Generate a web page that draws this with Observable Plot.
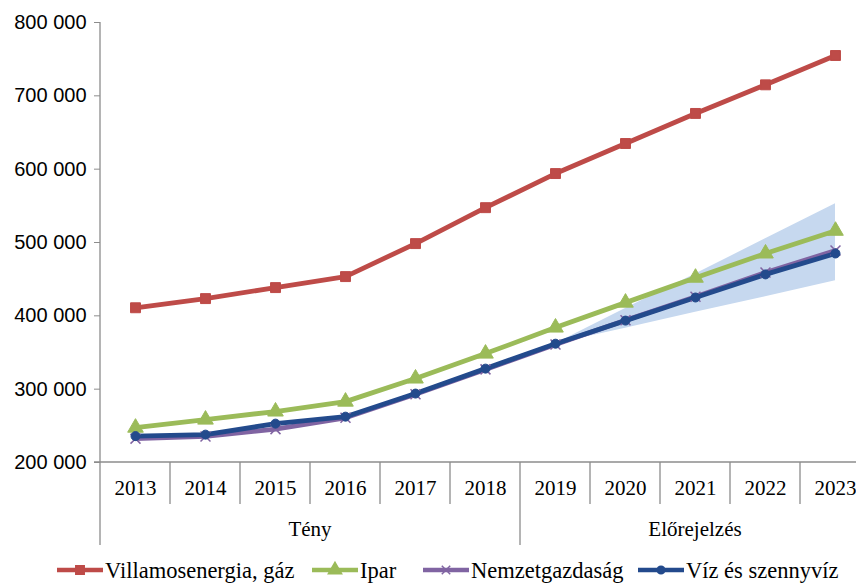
<!DOCTYPE html>
<html>
<head>
<meta charset="utf-8">
<script src="https://cdn.jsdelivr.net/npm/d3@7"></script>
<script src="https://cdn.jsdelivr.net/npm/@observablehq/plot@0.6"></script>
<style>
  html, body { margin: 0; padding: 0; background: #fff; overflow: hidden; width: 856px; height: 583px; }
  #chart svg { overflow: hidden; }
  #legend svg { display: block; }
</style>
</head>
<body>
<div id="chart"></div>
<div id="legend"></div>
<script>
const years = [2013, 2014, 2015, 2016, 2017, 2018, 2019, 2020, 2021, 2022, 2023];
const villamos = [411000, 423500, 438500, 453500, 498500, 547500, 594000, 635000, 676000, 715000, 755000];
const ipar = [247500, 258500, 269500, 283000, 314500, 348500, 384000, 418000, 452000, 485000, 516000];
const nemzet = [232500, 235500, 245500, 261000, 293000, 327000, 361000, 394000, 426000, 459000, 489000];
const viz = [236000, 238000, 253000, 262500, 294000, 328000, 362000, 393500, 425000, 456500, 485000];

const bandYears = [2019, 2020, 2021, 2022, 2023];
const bandLow = [362000, 383000, 405000, 426000, 448000];
const bandHigh = [362000, 410000, 457000, 505000, 553000];

const yTicks = [200000, 300000, 400000, 500000, 600000, 700000, 800000];
const groups = [
  {label: "Tény", from: 2013, to: 2018},
  {label: "Előrejelzés", from: 2019, to: 2023}
];

const seriesNames = ["Villamosenergia, gáz", "Ipar", "Nemzetgazdaság", "Víz és szennyvíz"];
const seriesValues = [villamos, ipar, nemzet, viz];

// styling (kept separate from the data)
const seriesColors = ["#BE4B48", "#9BBB59", "#8064A2", "#234A8C"];
const seriesSymbols = ["square", "triangle", "times", "circle"];
const seriesSizes = [5.6, 5.8, 4.6, 4.5];
const legendLeft = [57, 312, 423, 638];
const serif = "'Liberation Serif', 'Times New Roman', serif";

const rows = [];
seriesNames.forEach((name, i) => {
  years.forEach((yr, j) => rows.push({series: name, idx: i, year: yr, value: seriesValues[i][j]}));
});
const band = bandYears.map((yr, j) => ({year: yr, low: bandLow[j], high: bandHigh[j]}));

const fmt = v => d3.format(",")(v).replace(/,/g, "\u00a0");

function tableMark(index, scales, values, dimensions) {
  const x = scales.x, y = scales.y;
  const bw = x.bandwidth ? x.bandwidth() : (x(years[1]) - x(years[0]));
  const y0 = y(200000);
  const left = x(years[0]);
  const right = x(years[years.length - 1]) + bw;
  const g = d3.create("svg:g").attr("stroke", "#8c8c8c").attr("stroke-width", 1.3);
  g.append("line").attr("x1", left).attr("x2", left).attr("y1", y(800000)).attr("y2", y0 + 83);
  g.append("line").attr("x1", left - 6).attr("x2", right).attr("y1", y0).attr("y2", y0);
  years.slice(1).forEach(yr => {
    const isGroupStart = groups.some(gr => gr.from === yr);
    g.append("line").attr("x1", x(yr)).attr("x2", x(yr)).attr("y1", y0).attr("y2", y0 + (isGroupStart ? 83 : 42));
  });
  const t = g.append("g").attr("stroke", "none").attr("fill", "#000")
    .attr("font-family", serif).attr("font-size", 21)
    .attr("text-anchor", "middle");
  groups.forEach(gr => {
    const cx = (x(gr.from) + x(gr.to) + bw) / 2;
    t.append("text").attr("x", cx).attr("y", y0 + 67).attr("dy", "0.35em").text(gr.label);
  });
  return g.node();
}

const chart = Plot.plot({
  width: 856,
  height: 548,
  marginTop: 22,
  marginBottom: 86,
  marginLeft: 100,
  marginRight: 0,
  style: {background: "#fff"},
  x: {type: "band", domain: years, range: [100, 870], padding: 0},
  y: {domain: [200000, 800000], range: [462, 22]},
  color: {domain: seriesNames, range: seriesColors},
  symbol: {domain: seriesNames, range: seriesSymbols},
  marks: [
    Plot.areaY(band, {x: "year", y1: "low", y2: "high", fill: "#C6D8EF", curve: "linear"}),
    Plot.axisY({ticks: yTicks, tickFormat: fmt, tickSize: 6, tickPadding: 8, stroke: "#8c8c8c",
      fontSize: 20, fontFamily: "'Liberation Sans', Arial, sans-serif", fill: "#000", label: null}),
    Plot.axisX({tickSize: 0, tickPadding: 18, fontSize: 21, fontFamily: serif,
      fill: "#000", label: null, tickFormat: d => String(d)}),
    tableMark,
    Plot.line(rows, {x: "year", y: "value", z: "series", stroke: "series", strokeWidth: 4.8, strokeLinejoin: "round"}),
    ...seriesNames.map((name, i) => Plot.dot(rows.filter(r => r.series === name), {
      x: "year", y: "value", symbol: "series", r: seriesSizes[i],
      fill: name === "Nemzetgazdaság" ? "none" : "series",
      stroke: "series", strokeWidth: name === "Nemzetgazdaság" ? 1.5 : 1
    }))
  ]
});
document.getElementById("chart").appendChild(chart);

// Legend (SVG below the chart)
const lsvg = d3.select("#legend").append("svg").attr("width", 856).attr("height", 35);
const symMap = {square: d3.symbolSquare, triangle: d3.symbolTriangle, times: d3.symbolTimes, circle: d3.symbolCircle};
seriesNames.forEach((name, i) => {
  const g = lsvg.append("g").attr("transform", `translate(${legendLeft[i]},22)`);
  g.append("line").attr("x1", 0).attr("x2", 46).attr("y1", 0).attr("y2", 0)
    .attr("stroke", seriesColors[i]).attr("stroke-width", 4.5);
  const r = seriesSizes[i] * 0.85;
  g.append("path").attr("transform", "translate(23,0)")
    .attr("d", d3.symbol(symMap[seriesSymbols[i]], Math.PI * r * r)())
    .attr("fill", seriesSymbols[i] === "times" ? "none" : seriesColors[i])
    .attr("stroke", seriesColors[i]).attr("stroke-width", 1.5);
  g.append("text").attr("x", 48).attr("y", 0).attr("dy", "0.35em")
    .attr("font-family", serif).attr("font-size", 22.5).attr("fill", "#000")
    .text(name);
});
</script>
</body>
</html>
